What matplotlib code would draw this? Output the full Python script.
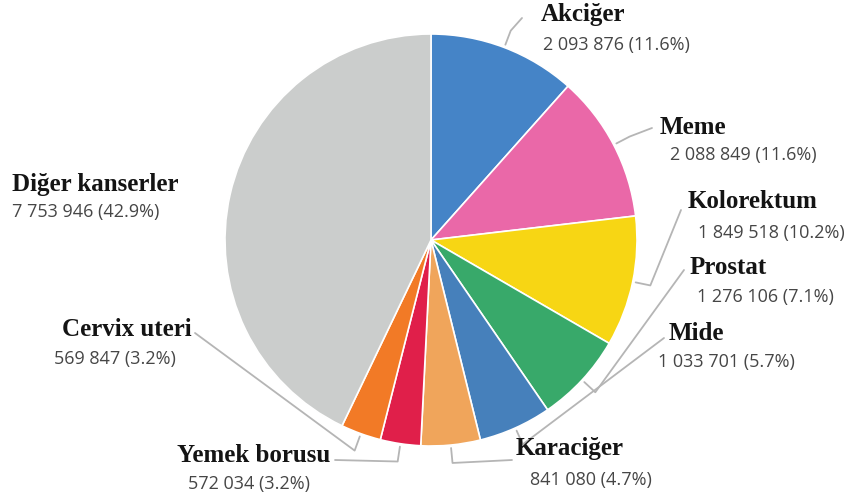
import matplotlib
matplotlib.use("Agg")
import matplotlib.pyplot as plt
import numpy as np

categories = ["Akciğer", "Meme", "Kolorektum", "Prostat", "Mide",
              "Karaciğer", "Yemek borusu", "Cervix uteri", "Diğer kanserler"]
values = [2093876, 2088849, 1849518, 1276106, 1033701,
          841080, 572034, 569847, 7753946]
percent_labels = ["11.6%", "11.6%", "10.2%", "7.1%", "5.7%",
                  "4.7%", "3.2%", "3.2%", "42.9%"]
colors = ["#4584c7", "#ea68a8", "#f7d614", "#38a96a", "#4680bb",
          "#f0a55b", "#e01f4a", "#f27a26", "#cbcdcc"]

W, H = 852, 497
fig = plt.figure(figsize=(W / 100, H / 100), dpi=100)
ax = fig.add_axes([0, 0, 1, 1])
ax.set_xlim(0, W)
ax.set_ylim(H, 0)
ax.axis("off")

cx, cy, R = 431, 240, 206

ax2 = fig.add_axes([0, 0, 1, 1])
ax2.set_xlim(0, W)
ax2.set_ylim(0, H)
ax2.axis("off")
wedges, _ = ax2.pie(values, colors=colors, startangle=90, counterclock=False,
                    center=(cx, H - cy), radius=R,
                    wedgeprops=dict(edgecolor="white", linewidth=1.2))
ax2.set_xlim(0, W)
ax2.set_ylim(0, H)
ax2.set_aspect("auto")

def fmt(v):
    return f"{v:,}".replace(",", " ")

# layout: (name_x, name_y, value_x, value_y, connector end x, y)
layout = [
    (541, 15, 543, 45, 522, 18),
    (660, 127, 670, 155, 652, 128),
    (688, 201, 698, 233, 681, 210),
    (690, 267, 697, 297, 684, 270),
    (669, 333, 658, 362, 664, 338),
    (516, 449, 530, 480, 512, 460),
    (177, 455, 188, 484, 335, 460),
    (62, 330, 54, 359, 195, 333),
    (12, 185, 12, 212, None, None),
]

for w, name, v, p, lay in zip(wedges, categories, values, percent_labels, layout):
    nx, ny, vx, vy, ex, ey = lay
    ax.text(nx, ny, name, fontsize=18, fontweight="bold",
            family="Liberation Serif", color="#141414", va="center", ha="left")
    ax.text(vx, vy, f"{fmt(v)} ({p})", fontsize=13, family="Open Sans",
            color="#464646", va="center", ha="left")
    if ex is None:
        continue
    mid = np.deg2rad((w.theta1 + w.theta2) / 2)
    dx, dy = np.cos(mid), -np.sin(mid)
    p0 = (cx + (R + 3) * dx, cy + (R + 3) * dy)
    p1 = (cx + (R + 18) * dx, cy + (R + 18) * dy)
    ax.plot([p0[0], p1[0], ex], [p0[1], p1[1], ey], color="#b5b5b5",
            lw=1.3, solid_joinstyle="round", solid_capstyle="round")

fig.savefig("out.png", dpi=100, facecolor="white")
